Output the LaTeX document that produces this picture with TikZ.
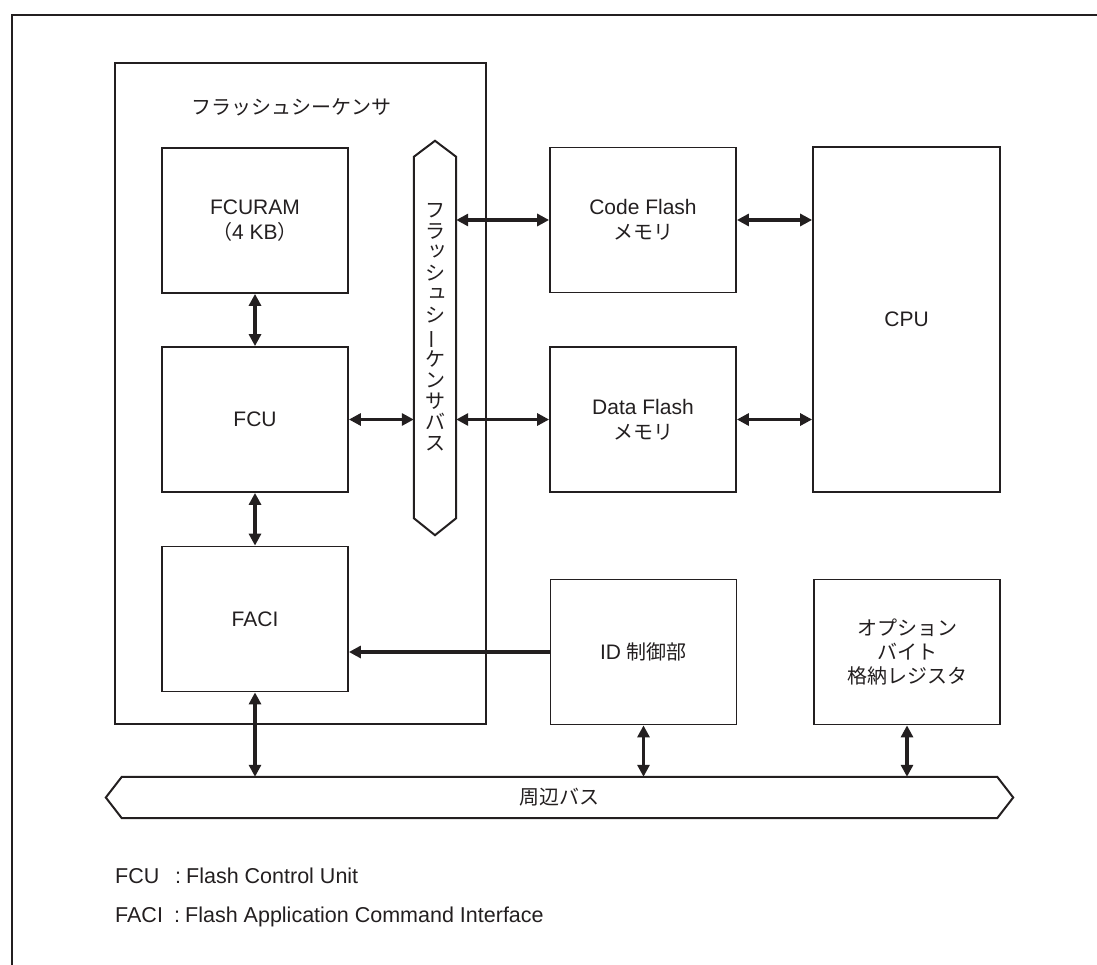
\documentclass[tikz,border=0pt]{standalone}
\usepackage{fontspec}
\usepackage{graphicx}
\setmainfont{Liberation Sans}
\newfontfamily\jp{Noto Sans CJK JP}
\usetikzlibrary{arrows.meta}
\definecolor{ink}{HTML}{231F20}
\newcommand\smallkana[1]{\raisebox{0.15em}{\makebox[1em][l]{\hspace{0.12em}#1}}}
\newcommand\jtxt[1]{{\jp\fontsize{20}{25}\selectfont #1}}
\begin{document}
\begin{tikzpicture}[x=1pt,y=-1pt,
  box/.style={draw=ink, line width=1.8pt, minimum width=186pt, minimum height=145pt,
    inner sep=0pt, align=center, text=ink, font=\fontsize{21}{25}\selectfont},
  outline/.style={draw=ink, line width=1.9pt},
  busshape/.style={draw=ink, line width=2pt, line join=miter},
  link/.style={draw=ink, line width=3.4pt,
    {Triangle[length=12pt,width=12pt]}-{Triangle[length=12pt,width=12pt]}},
  onelink/.style={draw=ink, line width=3.4pt, -{Triangle[length=12pt,width=12pt]}},
  legend/.style={anchor=base west, inner sep=0pt, text=ink, font=\fontsize{21.5}{25}\selectfont},
  jlabel/.style={inner sep=0pt, text=ink, font=\jp\fontsize{20}{25}\selectfont}]
\useasboundingbox (0,0) rectangle (1097,965);
% outer frame (cropped)
\draw[ink, line width=2.8pt] (12,965) -- (12,15) -- (1097,15);

% sequencer container
\node[outline, minimum width=371pt, minimum height=661pt, inner sep=0pt] (seq) at (300.5,393.5) {};
\node[jlabel] (seqtitle) at (291.5,107) {フラッシュシーケンサ};

% blocks
\node[box] (fcuram) at (255,220.5) {FCURAM\\\jtxt{（}4 KB\jtxt{）}};
\node[box] (fcu) at (255,419.5) {FCU};
\node[box] (faci) at (255,619) {FACI};
\node[box] (code) at (643,220) {Code Flash\\\jtxt{メモリ}};
\node[box] (data) at (643,419.5) {Data Flash\\\jtxt{メモリ}};
\node[box, minimum width=187pt, minimum height=345pt] (cpu) at (906.5,319.5) {CPU};
\node[box] (id) at (643.5,652) {ID \jtxt{制御部}};
\node[box, font=\jp\fontsize{20}{24}\selectfont] (opt) at (907,652) {オプション\\バイト\\格納レジスタ};

% sequencer bus (vertical)
\node[minimum width=42pt, minimum height=361pt, inner sep=0pt] (sbus) at (435,337.5) {};
\draw[busshape] (sbus.north west) -- ([yshift=16pt]sbus.north) -- (sbus.north east)
  -- (sbus.south east) -- ([yshift=-17pt]sbus.south) -- (sbus.south west) -- cycle;
\node[inner sep=0pt, align=center, text=ink, font=\jp\fontsize{20}{21}\selectfont] (sbuslabel) at (435,327)
  {フ\\ラ\\\smallkana{ッ}\\シ\\\smallkana{ュ}\\シ\\\rotatebox[origin=c]{90}{ー}\\ケ\\ン\\サ\\バ\\ス};

% peripheral bus (horizontal)
\node[minimum width=875pt, minimum height=41pt, inner sep=0pt] (pbus) at (559.5,797.5) {};
\draw[busshape] (pbus.north west) -- (pbus.north east) -- ([xshift=16pt]pbus.east)
  -- (pbus.south east) -- (pbus.south west) -- ([xshift=-16pt]pbus.west) -- cycle;
\node[jlabel] (pbuslabel) at (pbus.center) {周辺バス};

% connectors
\draw[link] (fcuram.south) -- (fcu.north);
\draw[link] (fcu.south) -- (faci.north);
\draw[link] (faci.south) -- (faci.south |- pbus.north);
\draw[link] (fcu.east) -- (fcu.east -| sbus.west);
\draw[link] (sbus.east |- code.west) -- (code.west);
\draw[link] (sbus.east |- data.west) -- (data.west);
\draw[link] (code.east) -- (code.east -| cpu.west);
\draw[link] (data.east) -- (data.east -| cpu.west);
\draw[onelink] (id.west) -- (id.west -| faci.east);
\draw[link] (id.south) -- (id.south |- pbus.north);
\draw[link] (opt.south) -- (opt.south |- pbus.north);

% legend
\node[legend] (l1a) at (115,883.5) {FCU};
\node[legend] (l1b) at (175,883.5) {:};
\node[legend] (l1c) at (186,883.5) {Flash Control Unit};
\node[legend] (l2a) at (115,922.5) {FACI};
\node[legend] (l2b) at (174,922.5) {:};
\node[legend] (l2c) at (185,922.5) {Flash Application Command Interface};
\end{tikzpicture}
\end{document}
